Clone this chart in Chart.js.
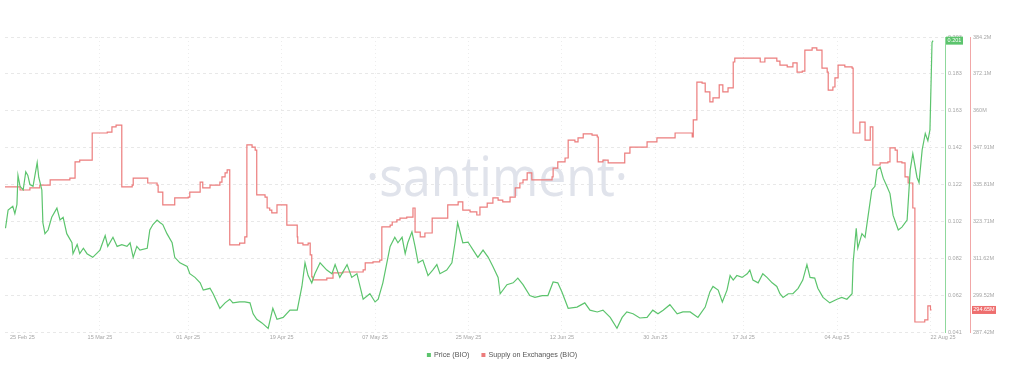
<!DOCTYPE html>
<html>
<head>
<meta charset="utf-8">
<script src="https://cdn.jsdelivr.net/npm/chart.js@4.4.1/dist/chart.umd.min.js"></script>
<style>
  html, body { margin: 0; padding: 0; background: #fff; }
  #wrap { width: 1024px; height: 380px; }
</style>
</head>
<body>
<div id="wrap"><canvas id="bio" width="1024" height="380"></canvas></div>
<script>
// days counted from 25 Feb 2025
const tickDays = [0, 18, 35, 53, 71, 89, 107, 125, 142, 160, 178];
const tickLabels = ['25 Feb 25', '15 Mar 25', '01 Apr 25', '19 Apr 25', '07 May 25', '25 May 25',
                    '12 Jun 25', '30 Jun 25', '17 Jul 25', '04 Aug 25', '22 Aug 25'];

const priceTicks = [0.041, 0.06125, 0.0815, 0.10175, 0.122, 0.14225, 0.1625, 0.18275, 0.203];
const priceTickLabels = ['0.041', '0.062', '0.082', '0.102', '0.122', '0.142', '0.163', '0.183', '0.203'];
const supplyTicks = [287.42, 299.52, 311.62, 323.71, 335.81, 347.91, 360, 372.1, 384.2];
const supplyTickLabels = ['287.42M', '299.52M', '311.62M', '323.71M', '335.81M', '347.91M', '360M', '372.1M', '384.2M'];

const priceDays = [-0.2, 0.3, 1.2, 1.6, 2.0, 2.2, 2.6, 3.2, 3.7, 4.1, 4.5, 5.1, 5.9, 6.2, 6.8, 7.0, 7.4, 8.0, 8.7, 9.7,
  10.3, 10.9, 11.6, 12.6, 12.8, 13.6, 14.1, 14.8, 15.5, 16.6, 18.0, 19.0, 19.5, 20.5, 21.3, 22.2, 23.2, 23.8, 24.4, 25.1,
  25.7, 27.1, 27.6, 28.2, 29.0, 29.6, 30.1, 30.9, 31.9, 32.4, 33.4, 34.8, 35.3, 36.3, 37.3, 37.9, 39.2, 39.8, 41.1, 42.1,
  43.0, 43.6, 44.9, 45.9, 46.9, 47.5, 48.2, 49.2, 50.4, 51.3, 52.1, 53.3, 54.6, 56.0, 56.9, 57.5, 58.1, 58.8, 59.4, 60.4,
  61.7, 62.7, 63.3, 64.2, 65.6, 66.5, 67.5, 68.7, 70.0, 71.0, 71.6, 72.5, 73.9, 74.8, 75.4, 76.2, 76.8, 77.3, 78.1, 78.7,
  79.3, 80.2, 81.2, 82.1, 82.9, 83.5, 84.8, 85.8, 86.4, 86.9, 87.9, 88.9, 89.9, 90.8, 91.8, 92.8, 93.7, 94.7, 95.1, 96.4,
  97.6, 98.5, 99.5, 100.8, 101.8, 103.2, 104.3, 105.3, 106.2, 107.0, 108.2, 109.9, 111.4, 112.4, 113.8, 114.9, 116.3, 117.6, 118.6, 119.5,
  120.7, 122.0, 123.4, 124.5, 125.5, 126.5, 127.8, 129.2, 130.3, 131.7, 133.2, 134.6, 135.5, 136.1, 137.1, 137.9, 138.8, 139.4, 140.0, 140.7,
  141.7, 142.7, 143.2, 143.8, 144.8, 145.7, 146.5, 147.5, 148.4, 149.0, 149.6, 150.6, 151.5, 152.5, 153.4, 154.2, 154.8, 155.7, 156.3, 157.3,
  158.6, 160.0, 160.9, 161.9, 162.9, 163.1, 163.7, 164.0, 164.8, 165.4, 166.0, 166.7, 167.3, 167.7, 168.3, 168.9, 169.6, 170.2, 170.8, 171.8,
  172.5, 173.5, 174.1, 174.6, 175.4, 175.8, 176.4, 177.0, 177.5, 177.9, 178.3, 178.5];
const priceValues = [0.098, 0.108, 0.110, 0.106, 0.111, 0.127, 0.121, 0.119, 0.129, 0.127, 0.122, 0.121, 0.134, 0.126, 0.119, 0.101, 0.095, 0.097, 0.104, 0.109,
  0.1025, 0.104, 0.095, 0.090, 0.084, 0.089, 0.084, 0.087, 0.084, 0.082, 0.086, 0.094, 0.088, 0.093, 0.088, 0.089, 0.088, 0.090, 0.082, 0.088,
  0.086, 0.087, 0.097, 0.100, 0.1025, 0.101, 0.100, 0.095, 0.090, 0.082, 0.079, 0.077, 0.073, 0.071, 0.068, 0.064, 0.065, 0.062, 0.054, 0.057,
  0.059, 0.057, 0.0575, 0.0575, 0.057, 0.051, 0.048, 0.046, 0.043, 0.054, 0.048, 0.049, 0.053, 0.053, 0.066, 0.079, 0.072, 0.068, 0.073, 0.079,
  0.075, 0.073, 0.078, 0.071, 0.078, 0.071, 0.073, 0.059, 0.062, 0.0575, 0.059, 0.068, 0.088, 0.093, 0.090, 0.093, 0.084, 0.090, 0.096, 0.088,
  0.079, 0.0805, 0.072, 0.075, 0.078, 0.073, 0.075, 0.079, 0.090, 0.101, 0.090, 0.0904, 0.086, 0.082, 0.086, 0.082, 0.077, 0.071, 0.062, 0.067,
  0.068, 0.0706, 0.067, 0.061, 0.060, 0.061, 0.061, 0.0685, 0.068, 0.063, 0.054, 0.0547, 0.057, 0.053, 0.052, 0.053, 0.049, 0.043, 0.049, 0.052,
  0.051, 0.0487, 0.049, 0.053, 0.051, 0.053, 0.056, 0.051, 0.052, 0.052, 0.049, 0.0547, 0.063, 0.066, 0.064, 0.0575, 0.064, 0.072, 0.0695, 0.072,
  0.071, 0.073, 0.075, 0.0695, 0.068, 0.073, 0.071, 0.068, 0.066, 0.062, 0.060, 0.062, 0.062, 0.065, 0.0695, 0.078, 0.071, 0.0706, 0.065, 0.060,
  0.057, 0.059, 0.060, 0.059, 0.062, 0.079, 0.098, 0.087, 0.095, 0.093, 0.105, 0.119, 0.121, 0.130, 0.1316, 0.1255, 0.121, 0.117, 0.105, 0.097,
  0.0986, 0.1025, 0.130, 0.139, 0.126, 0.123, 0.141, 0.150, 0.146, 0.152, 0.200, 0.201];

const supplyDays = [-0.3, 2.6, 4.5, 6.4, 8.4, 12.2, 13.2, 14.1, 16.5, 19.4, 20.3, 21.1, 22.2, 24.2, 24.4, 27.2, 29.0, 29.2, 30.1, 32.4,
  35.0, 35.3, 37.3, 37.8, 39.2, 41.1, 41.5, 42.1, 42.5, 43.0, 44.9, 45.9, 46.3, 47.3, 47.9, 48.2, 49.8, 50.2, 50.7, 51.1,
  52.1, 54.0, 56.0, 56.1, 57.1, 58.1, 58.5, 58.8, 59.0, 61.7, 62.9, 64.8, 68.7, 69.1, 70.6, 71.9, 72.3, 73.9, 74.3, 75.2,
  75.8, 77.1, 78.3, 78.7, 79.7, 80.6, 82.0, 85.0, 87.0, 87.9, 89.3, 90.6, 91.2, 92.6, 93.7, 94.7, 95.6, 97.0, 98.0, 98.9,
  99.5, 100.3, 101.2, 105.1, 105.3, 106.2, 107.6, 108.2, 109.5, 110.1, 111.1, 112.8, 113.8, 114.0, 114.9, 115.9, 119.1, 120.1, 123.4, 125.3,
  128.8, 132.1, 132.3, 133.0, 134.0, 134.6, 135.5, 136.1, 137.3, 138.0, 139.0, 140.0, 140.3, 145.2, 146.1, 148.4, 149.0, 150.4, 151.5, 152.3,
  153.3, 153.8, 155.2, 156.1, 157.1, 158.1, 158.3, 159.2, 159.6, 160.2, 161.5, 162.9, 163.1, 164.4, 165.4, 166.4, 166.9, 168.3, 169.8, 170.2,
  171.2, 171.6, 172.5, 173.1, 173.7, 174.6, 175.0, 176.9, 177.5, 178.0, 178.2];
const supplyValues = [335.0, 334.0, 334.7, 335.6, 337.3, 337.9, 343.2, 343.8, 352.7, 353.0, 354.7, 355.3, 335.0, 335.6, 337.9, 336.3, 335.6, 333.3, 329.1, 331.4,
  331.7, 333.3, 336.6, 334.7, 335.6, 336.6, 338.3, 339.6, 340.6, 316.0, 316.6, 318.6, 348.8, 348.1, 347.1, 332.4, 331.7, 328.1, 327.4, 326.5,
  329.1, 322.5, 318.6, 316.6, 316.0, 316.6, 312.7, 305.5, 304.5, 305.1, 306.8, 307.1, 307.8, 310.1, 310.4, 311.0, 321.9, 322.5, 323.5, 324.2,
  324.8, 325.1, 328.1, 320.2, 318.6, 319.9, 324.8, 329.1, 330.1, 327.4, 326.8, 325.8, 328.4, 329.7, 331.4, 330.7, 330.1, 331.7, 334.7, 336.3,
  337.3, 339.6, 337.3, 338.3, 341.2, 343.2, 344.5, 350.4, 349.8, 351.1, 352.4, 352.0, 351.4, 343.2, 343.8, 342.9, 346.1, 348.1, 349.8, 351.1,
  352.7, 351.4, 357.0, 369.4, 369.1, 366.2, 362.9, 364.2, 368.5, 366.2, 367.5, 376.0, 377.3, 376.0, 377.3, 376.3, 375.0, 374.4, 375.7, 372.7,
  373.0, 379.9, 380.6, 379.9, 374.0, 372.7, 366.8, 367.8, 370.8, 375.0, 374.4, 374.0, 352.7, 356.3, 350.4, 354.7, 342.2, 342.9, 343.2, 347.8,
  347.1, 343.2, 342.9, 338.3, 336.3, 328.1, 290.7, 291.4, 296.0, 294.65, 294.65];

const GREEN = '#5cc46d';
const RED = '#ec7c7c';
const FONT = '"Liberation Sans", Arial, sans-serif';

function toPoints(xs, ys) {
  return xs.map((x, i) => ({ x: x, y: ys[i] }));
}

const santiment = {
  id: 'santiment',
  beforeDatasetsDraw(chart) {
    const ctx = chart.ctx;
    ctx.save();
    ctx.font = '400 54px "Open Sans", sans-serif';
    ctx.fillStyle = '#e0e3eb';
    ctx.textAlign = 'center';
    ctx.textBaseline = 'alphabetic';
    ctx.fillText('\u00b7santiment\u00b7', 497, 196, 262);
    ctx.restore();
  },
  afterDraw(chart) {
    const ctx = chart.ctx;
    const xs = chart.scales.x, ys = chart.scales.y, ys1 = chart.scales.y1;
    const area = chart.chartArea;
    ctx.save();

    // date labels
    ctx.font = '5.5px ' + FONT;
    ctx.fillStyle = '#a6a6a6';
    ctx.textBaseline = 'middle';
    tickDays.forEach((d, i) => {
      const px = xs.getPixelForValue(d);
      if (i === 0) { ctx.textAlign = 'left'; ctx.fillText(tickLabels[i], px + 3.5, area.bottom + 5); }
      else if (i === tickDays.length - 1) { ctx.textAlign = 'left'; ctx.fillText(tickLabels[i], px, area.bottom + 5); }
      else { ctx.textAlign = 'center'; ctx.fillText(tickLabels[i], px, area.bottom + 5); }
    });

    // last value badges
    const lastPrice = priceValues[priceValues.length - 1];
    const lastSupply = supplyValues[supplyValues.length - 1];
    let py = ys.getPixelForValue(lastPrice);
    ctx.fillStyle = '#5cc46d';
    ctx.fillRect(ys.left + 1, py - 4, 17, 8);
    ctx.fillStyle = '#fff';
    ctx.textAlign = 'center';
    ctx.font = '5.5px ' + FONT;
    ctx.fillText(lastPrice.toFixed(3), ys.left + 9.5, py);
    py = ys1.getPixelForValue(lastSupply);
    ctx.fillStyle = '#ee6e6e';
    ctx.fillRect(ys1.left + 2, py - 4, 24, 8);
    ctx.fillStyle = '#fff';
    ctx.fillText(lastSupply.toFixed(2) + 'M', ys1.left + 14, py);

    // legend
    ctx.font = '7.2px ' + FONT;
    ctx.textAlign = 'left';
    const sets = chart.data.datasets;
    const widths = sets.map(s => 4 + 3 + ctx.measureText(s.label).width);
    const total = widths.reduce((a, b) => a + b, 0) + 12 * (sets.length - 1);
    let lx = 502 - total / 2;
    const ly = 355;
    sets.forEach((s, i) => {
      ctx.fillStyle = s.borderColor;
      ctx.fillRect(lx, ly - 2, 4, 4);
      ctx.fillStyle = '#555';
      ctx.fillText(s.label, lx + 7, ly);
      lx += widths[i] + 12;
    });
    ctx.restore();
  }
};

const ctx = document.getElementById('bio').getContext('2d');

const bioChart = new Chart(ctx, {
  type: 'line',
  data: {
    datasets: [
      {
        label: 'Price (BIO)',
        data: toPoints(priceDays, priceValues),
        yAxisID: 'y',
        borderColor: GREEN,
        borderWidth: 1.2,
        pointRadius: 0,
        tension: 0
      },
      {
        label: 'Supply on Exchanges (BIO)',
        data: toPoints(supplyDays, supplyValues),
        yAxisID: 'y1',
        borderColor: RED,
        borderWidth: 1.2,
        pointRadius: 0,
        stepped: true
      }
    ]
  },
  options: {
    responsive: false,
    animation: false,
    devicePixelRatio: 1,
    layout: { padding: { left: 5, top: 37, right: 0, bottom: 36 } },
    plugins: {
      legend: { display: false },
      tooltip: { enabled: false }
    },
    scales: {
      x: {
        type: 'linear',
        min: -0.3,
        max: 180.8,
        afterBuildTicks: s => { s.ticks = tickDays.slice(1).map(v => ({ value: v })); },
        ticks: { display: false },
        grid: { color: '#ededed', drawTicks: false },
        border: { display: false, dash: [1, 3] },
        afterFit: s => { s.height = 12; s.paddingLeft = 0; s.paddingRight = 0; }
      },
      y: {
        position: 'right',
        min: 0.041,
        max: 0.203,
        afterBuildTicks: s => { s.ticks = priceTicks.map(v => ({ value: v })); },
        ticks: {
          callback: (v, i) => priceTickLabels[i],
          color: '#a6a6a6',
          font: { size: 5.5, family: FONT },
          padding: 3
        },
        grid: { color: '#e8e8e8', drawTicks: false },
        border: { display: true, color: '#8fd89c', dash: [3, 3] },
        afterFit: s => { s.width = 25; }
      },
      y1: {
        position: 'right',
        min: 287.42,
        max: 384.2,
        afterBuildTicks: s => { s.ticks = supplyTicks.map(v => ({ value: v })); },
        ticks: {
          callback: (v, i) => supplyTickLabels[i],
          color: '#a6a6a6',
          font: { size: 5.5, family: FONT },
          padding: 3
        },
        grid: { drawOnChartArea: false, drawTicks: false },
        border: { display: true, color: '#f1a7a7' },
        afterFit: s => { s.width = 54; }
      }
    }
  },
  plugins: [santiment]
});
</script>
</body>
</html>
